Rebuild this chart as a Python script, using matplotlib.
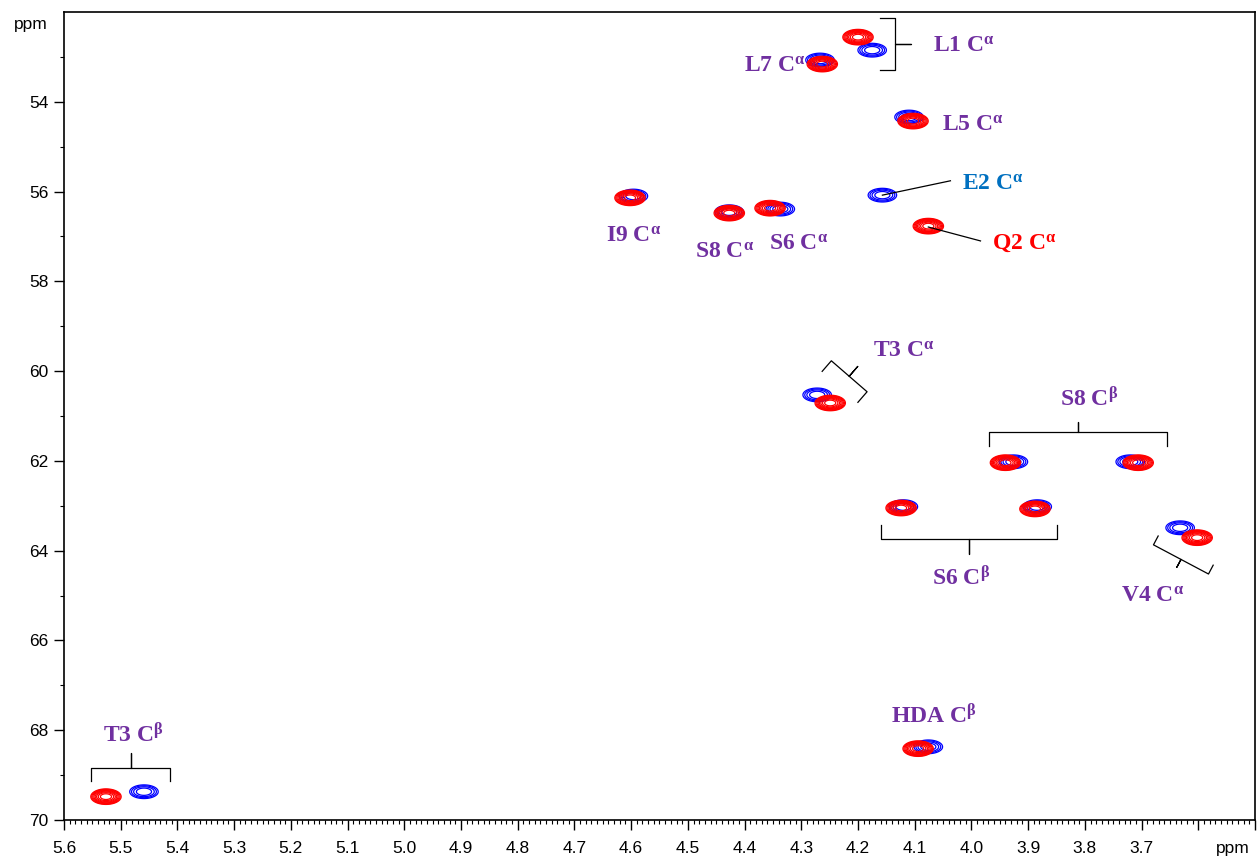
import matplotlib
matplotlib.use("Agg")
import matplotlib.pyplot as plt
from matplotlib.ticker import MultipleLocator, FixedLocator, FuncFormatter
import numpy as np

# peak positions (1H ppm, 13C ppm)
red_h = [4.200, 4.263, 4.103, 4.076, 4.602, 4.427, 4.355, 4.249, 3.940, 3.706, 4.124, 3.888, 3.602, 4.094, 5.526]
red_c = [52.56, 53.16, 54.43, 56.77, 56.14, 56.48, 56.37, 60.71, 62.04, 62.04, 63.05, 63.07, 63.71, 68.41, 69.48]
blue_h = [4.175, 4.267, 4.110, 4.157, 4.596, 4.427, 4.337, 4.272, 3.926, 3.720, 4.120, 3.884, 3.632, 4.076, 5.459]
blue_c = [52.85, 53.07, 54.34, 56.08, 56.10, 56.45, 56.39, 60.53, 62.02, 62.02, 63.02, 63.02, 63.49, 68.37, 69.37]

# assignment labels: text, 1H, 13C, colour
lab_text = ["L1 C$^{\\alpha}$", "L7 C$^{\\alpha}$", "L5 C$^{\\alpha}$", "E2 C$^{\\alpha}$", "Q2 C$^{\\alpha}$",
            "I9 C$^{\\alpha}$", "S8 C$^{\\alpha}$", "S6 C$^{\\alpha}$", "T3 C$^{\\alpha}$", "S8 C$^{\\beta}$",
            "S6 C$^{\\beta}$", "V4 C$^{\\alpha}$", "HDA C$^{\\beta}$", "T3 C$^{\\beta}$"]
lab_h = [4.014, 4.346, 3.997, 3.962, 3.907, 4.595, 4.436, 4.305, 4.119, 3.792, 4.018, 3.681, 4.066, 5.478]
lab_c = [52.89, 53.34, 54.65, 55.96, 57.30, 57.12, 57.48, 57.30, 59.68, 60.78, 64.76, 65.14, 67.84, 68.26]
purple = "#7030A0"
lab_col = [purple, purple, purple, "#0070C0", "#FF0000", purple, purple, purple,
           purple, purple, purple, purple, purple, purple]

# pointer lines (E2, Q2)
lines = [((4.157, 56.08), (4.037, 55.76)), ((4.076, 56.79), (3.984, 57.10))]

# braces: start, end, hook px, tick px, side
braces = [((4.134, 52.13), (4.134, 53.29), 15, 16, 1),
          ((3.969, 61.35), (3.655, 61.35), 14, 10, 1),
          ((4.159, 63.74), (3.849, 63.74), 14, 15, -1),
          ((5.552, 68.84), (5.413, 68.84), 13, 15, 1),
          ((4.247, 59.77), (4.184, 60.46), 14, 13, 1),
          ((3.679, 63.87), (3.582, 64.52), 10, 9, -1)]

plt.rcParams['mathtext.fontset'] = 'custom'
plt.rcParams['mathtext.rm'] = 'Liberation Serif:bold'
plt.rcParams['mathtext.it'] = 'Liberation Serif:bold'
plt.rcParams['mathtext.bf'] = 'Liberation Serif:bold'
plt.rcParams['font.family'] = 'Liberation Sans'


def spectrum(xs, ys, hs, cs, sx, sy):
    z = np.zeros((len(ys), len(xs)))
    for h, c in zip(hs, cs):
        gx = np.exp(-(xs - h) ** 2 / (2 * sx ** 2))
        gy = np.exp(-(ys - c) ** 2 / (2 * sy ** 2))
        z += np.outer(gy, gx)
    return z


def brace(ax, p1, p2, hook, tick, side):
    a = ax.transData.transform(p1)
    b = ax.transData.transform(p2)
    d = (b - a) / np.hypot(*(b - a))
    n = np.array([-d[1], d[0]]) * side
    m = (a + b) / 2
    pts = np.array([a - n * hook, a, m, m + n * tick, m, b, b - n * hook])
    pts = ax.transData.inverted().transform(pts)
    ax.plot(pts[:, 0], pts[:, 1], color='black', lw=0.9, solid_joinstyle='round')


fig = plt.figure(figsize=(12.59, 8.58), dpi=100)
ax = fig.add_axes([64 / 1259, 1 - 820 / 858, (1255 - 64) / 1259, (820 - 12) / 858])
ax.set_xlim(5.6, 3.5)
ax.set_ylim(70, 52)

xs = np.arange(3.5, 5.6, 0.001)
ys = np.arange(52, 70, 0.01)
zb = spectrum(xs, ys, blue_h, blue_c, 0.0122, 0.074)
zr = spectrum(xs, ys, red_h, red_c, 0.0130, 0.084)
ax.contour(xs, ys, zb, levels=[0.12, 0.2, 0.33, 0.55], colors='#0000FF', linewidths=0.9)
ax.contour(xs, ys, zr, levels=0.12 * 1.3 ** np.arange(8), colors='#FF0000', linewidths=0.9)

for t, h, c, col in zip(lab_text, lab_h, lab_c, lab_col):
    ax.text(h, c, t, color=col, fontsize=17, ha='center', va='baseline',
            family='Liberation Serif', fontweight='bold')

for p, q in lines:
    ax.plot([p[0], q[0]], [p[1], q[1]], color='black', lw=0.9)

for p1, p2, hk, tk, sd in braces:
    brace(ax, p1, p2, hk, tk, sd)

# ticks
ax.xaxis.set_major_locator(FixedLocator(np.round(np.arange(5.6, 3.45, -0.1), 1)))
ax.xaxis.set_minor_locator(MultipleLocator(0.01))
ax.xaxis.set_major_formatter(FuncFormatter(lambda v, p: "%.1f" % v if v > 3.65 else ""))
ax.yaxis.set_major_locator(FixedLocator(np.arange(54, 71, 2)))
ax.yaxis.set_minor_locator(FixedLocator(np.arange(53, 70, 2)))
ax.yaxis.set_major_formatter(FuncFormatter(lambda v, p: "%d" % v))
ax.tick_params(axis='x', which='major', length=7, width=1, labelsize=12.5, pad=8)
ax.tick_params(axis='x', which='minor', length=3, width=0.8)
ax.tick_params(axis='y', which='major', length=7, width=1, labelsize=12.5, pad=4)
ax.tick_params(axis='y', which='minor', length=3, width=0.8)
for s in ax.spines.values():
    s.set_linewidth(1.2)

fig.text(31 / 1259, 1 - 25 / 858, "ppm", fontsize=12.5, ha='center', va='center')
fig.text(1233 / 1259, 1 - 849 / 858, "ppm", fontsize=12.5, ha='center', va='center')

fig.savefig("out.png", dpi=100)
